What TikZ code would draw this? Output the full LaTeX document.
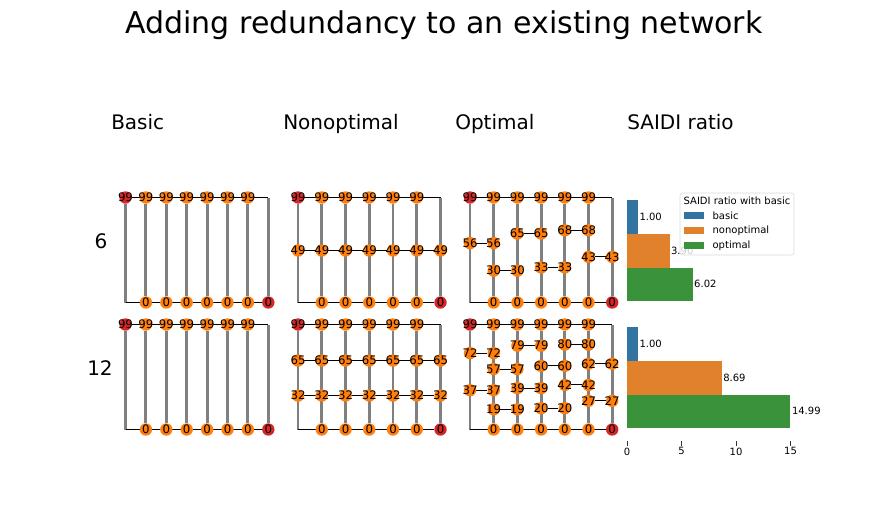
\documentclass[tikz,border=0pt]{standalone}
\usepackage{fontspec}
\setmainfont{DejaVu Sans}
\usetikzlibrary{positioning,backgrounds}
\definecolor{busorange}{RGB}{255,127,14}
\definecolor{busred}{RGB}{214,39,40}
\definecolor{barblue}{RGB}{50,116,161}
\definecolor{barorange}{RGB}{225,129,44}
\definecolor{bargreen}{RGB}{58,146,58}
\newcommand{\busval}[1]{\makebox[0pt]{#1}}

\begin{document}
\begin{tikzpicture}[x=0.75pt,y=-0.75pt,
 bus/.style={circle,inner sep=0pt,minimum size=9.3pt,fill=busorange,font=\fontsize{8.8}{8.8}\selectfont},
 feeder/.style={bus,fill=busred},
 wire/.style={black,line width=0.75pt},
 tie/.style={gray,line width=2.2pt},
 head/.style={font=\fontsize{15}{15}\selectfont,inner sep=0pt},
 val/.style={font=\fontsize{7.5}{7.5}\selectfont,inner sep=1pt}]
\useasboundingbox (0,0) rectangle (888,504);

\node[font=\fontsize{22.5}{22.5}\selectfont,anchor=base] (title) at (444,33) {Adding redundancy to an existing network};
\node[head,anchor=base west] (basic) at (111,129.5) {Basic};
\node[head,anchor=base west] (nonopt) at (283,129.5) {Nonoptimal};
\node[head,anchor=base west] (opt) at (455,129.5) {Optimal};
\node[head,anchor=base west] (saidi) at (627,129.5) {SAIDI ratio};
\node[head] (six) at (101,241) {6};
\node[head] (twelve) at (100,368) {12};

% top and bottom buses of every network
\foreach \p/\xo/\dx/\n in {B/125.5/20.4/7,N/298/23.75/6,O/470/23.7/6}{
 \foreach \r/\yb in {a/302.5,b/429.5}{
  \pgfmathtruncatemacro\m{\n-1}
  \node[feeder] (\p\r-t0) at (\xo,{\yb-105}) {\busval{99}};
  \foreach \i in {1,...,\m}
   \node[bus] (\p\r-t\i) at ({\xo+\dx*\i},{\yb-105}) {\busval{99}};
  \coordinate (\p\r-t\n) at ({\xo+\dx*\n},{\yb-105});
  \coordinate (\p\r-b0) at (\xo,\yb);
  \foreach \i in {1,...,\m}
   \node[bus] (\p\r-b\i) at ({\xo+\dx*\i},\yb) {\busval{0}};
  \node[feeder] (\p\r-b\n) at ({\xo+\dx*\n},\yb) {\busval{0}};
  \begin{pgfonlayer}{background}
   \foreach \i in {0,...,\n}
    \draw[tie] (\p\r-t\i) -- (\p\r-b\i);
   \draw[wire] (\p\r-t0) -- (\p\r-t\n);
   \draw[wire] (\p\r-b0) -- (\p\r-b\n);
  \end{pgfonlayer}
 }
}

% nonoptimal: full rows
\foreach \r/\yb/\v in {a/302.5/49,b/429.5/65,b/429.5/32}{
 \foreach \i in {0,...,6}
  \node[bus] (N\r-\v-\i) at ({298+23.75*\i},{\yb-105*\v/99}) {\busval{\v}};
 \begin{pgfonlayer}{background}
  \draw[wire] (N\r-\v-0) -- (N\r-\v-6);
 \end{pgfonlayer}
}

% optimal: pairs of buses
\foreach \r/\yb/\c/\v in {a/302.5/0/56,a/302.5/1/30,a/302.5/2/65,a/302.5/3/33,a/302.5/4/68,a/302.5/5/43,
 b/429.5/0/72,b/429.5/0/37,b/429.5/1/57,b/429.5/1/19,b/429.5/2/79,b/429.5/2/39,
 b/429.5/3/60,b/429.5/3/20,b/429.5/4/80,b/429.5/4/42,b/429.5/5/62,b/429.5/5/27}{
 \pgfmathtruncatemacro\cc{\c+1}
 \node[bus] (O\r-\v-\c) at ({470+23.7*\c},{\yb-105*\v/99}) {\busval{\v}};
 \node[bus] (O\r-\v-\cc) at ({470+23.7*\cc},{\yb-105*\v/99}) {\busval{\v}};
 \begin{pgfonlayer}{background}
  \draw[wire] (O\r-\v-\c) -- (O\r-\v-\cc);
 \end{pgfonlayer}
}

% SAIDI bars
\foreach \yy/\v/\c [count=\k] in {200/1.00/barblue,234/3.90/barorange,267.5/6.02/bargreen,
 327/1.00/barblue,361/8.69/barorange,394.5/14.99/bargreen}{
 \fill[\c] (627,\yy) rectangle ({627+10.9*\v},{\yy+33.7});
 \node[val,anchor=west] (v\k) at ({627+10.9*\v},{\yy+16.8}) {\v};
}
\foreach \t in {0,5,10,15}{
 \coordinate (tk\t) at ({627+10.9*\t},441);
 \node[val,anchor=north] (tl\t) at ({627+10.9*\t},446) {\t};
 \draw[black!80] (tk\t) -- (tl\t);
}

% legend
\draw[draw=black!15,fill=white,fill opacity=0.8,rounded corners=2pt] (680,193) rectangle (794,255);
\node[val] (legtitle) at (737,200.5) {SAIDI ratio with basic};
\foreach \yy/\c/\s [count=\k] in {215.5/barblue/basic,230.5/barorange/nonoptimal,245.5/bargreen/optimal}{
 \fill[\c] (684,{\yy-3.5}) rectangle (704,{\yy+3.5});
 \node[val,anchor=west] (leg\k) at (711,\yy) {\s};
}
\end{tikzpicture}
\end{document}
